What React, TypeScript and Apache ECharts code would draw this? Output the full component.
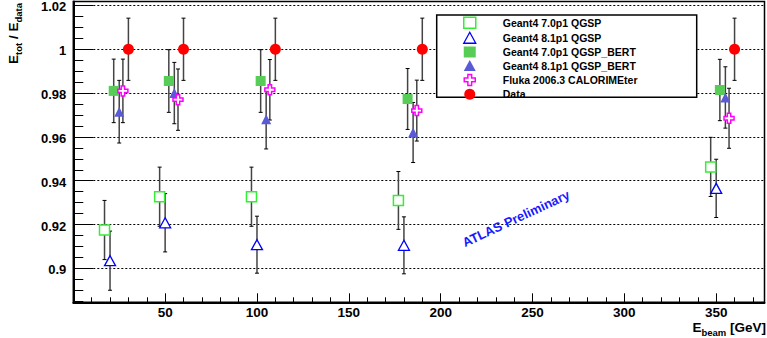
import React, { useEffect, useRef } from 'react';
import * as echarts from 'echarts';

const FONT = '"Liberation Sans", Arial, Helvetica, sans-serif';

const seriesNames = [
  'Geant4 7.0p1 QGSP',
  'Geant4 8.1p1 QGSP',
  'Geant4 7.0p1 QGSP_BERT',
  'Geant4 8.1p1 QGSP_BERT',
  'Fluka 2006.3 CALORIMEter',
  'Data',
];

const xTickLabels = [50, 100, 150, 200, 250, 300, 350];
const yTickLabels = [0.9, 0.92, 0.94, 0.96, 0.98, 1, 1.02];

// beam energies 20, 50, 100, 180, 350 GeV, each set drawn slightly shifted
const xQgsp70 = [17, 47, 97, 177, 347];
const yQgsp70 = [0.9175, 0.9327, 0.9327, 0.931, 0.9463];
const eQgsp70 = [0.0135, 0.0135, 0.0135, 0.0132, 0.0135];

const xQgsp81 = [20, 50, 100, 180, 350];
const yQgsp81 = [0.9035, 0.9208, 0.9108, 0.9105, 0.9365];
const eQgsp81 = [0.0135, 0.0133, 0.013, 0.013, 0.0133];

const xBert70 = [22, 52, 102, 182, 352];
const yBert70 = [0.981, 0.9855, 0.9855, 0.9773, 0.9814];
const eBert70 = [0.0145, 0.0143, 0.0143, 0.0139, 0.014];

const xBert81 = [25, 55, 105, 185, 355];
const yBert81 = [0.9715, 0.98, 0.968, 0.962, 0.978];
const eBert81 = [0.0143, 0.014, 0.0135, 0.0137, 0.014];

const xFluka = [27, 57, 107, 187, 357];
const yFluka = [0.981, 0.977, 0.9815, 0.972, 0.9685];
const eFluka = [0.0145, 0.014, 0.0138, 0.0139, 0.0137];

const xData = [30, 60, 110, 190, 360];
const yData = [1, 1, 1, 1, 1];
const eData = [0.0142, 0.0142, 0.0142, 0.0142, 0.0142];

const CROSS = 'path://M3.3,0H6.7V3.3H10V6.7H6.7V10H3.3V6.7H0V3.3H3.3Z';

const sets = [
  { xs: xQgsp70, ys: yQgsp70, es: eQgsp70, symbol: 'rect', size: 10, icon: 'rect',
    style: { color: '#ffffff', borderColor: '#33ee33', borderWidth: 1.5 } },
  { xs: xQgsp81, ys: yQgsp81, es: eQgsp81, symbol: 'triangle', size: [11, 10], icon: 'triangle',
    style: { color: '#ffffff', borderColor: '#0000ff', borderWidth: 1.3 } },
  { xs: xBert70, ys: yBert70, es: eBert70, symbol: 'rect', size: 10, icon: 'rect',
    style: { color: '#57cc57', borderWidth: 0 } },
  { xs: xBert81, ys: yBert81, es: eBert81, symbol: 'triangle', size: [10, 10], icon: 'triangle',
    style: { color: '#5a5ad6', borderWidth: 0 } },
  { xs: xFluka, ys: yFluka, es: eFluka, symbol: CROSS, size: 10, icon: CROSS,
    style: { color: '#ffffff', borderColor: '#ff00ff', borderWidth: 1.5 } },
  { xs: xData, ys: yData, es: eData, symbol: 'circle', size: 11, icon: 'circle',
    style: { color: '#ff0000', borderWidth: 0 } },
];

const errorBarItem = (_params: any, api: any) => {
  const x = api.value(0);
  const y = api.value(1);
  const e = api.value(2);
  const top = api.coord([x, y + e]);
  const bot = api.coord([x, y - e]);
  const cap = 2;
  return {
    type: 'group',
    children: [
      { type: 'line', shape: { x1: top[0], y1: top[1], x2: bot[0], y2: bot[1] },
        style: { stroke: '#444', lineWidth: 1.5 } },
      { type: 'line', shape: { x1: top[0] - cap, y1: top[1], x2: top[0] + cap, y2: top[1] },
        style: { stroke: '#000', lineWidth: 1 } },
      { type: 'line', shape: { x1: bot[0] - cap, y1: bot[1], x2: bot[0] + cap, y2: bot[1] },
        style: { stroke: '#000', lineWidth: 1 } },
    ],
  };
};

export default function App() {
  const ref = useRef<HTMLDivElement>(null);

  useEffect(() => {
    if (!ref.current) return;
    const chart = echarts.init(ref.current, null, { renderer: 'svg' });

    const errSeries = sets.map((s, i) => ({
      type: 'custom',
      name: 'err' + i,
      renderItem: errorBarItem,
      data: s.xs.map((x, j) => [x, s.ys[j], s.es[j]]),
      encode: { x: 0, y: 1 },
      z: 2,
      silent: true,
    }));

    const markerSeries = sets.map((s, i) => ({
      type: 'scatter',
      name: seriesNames[i],
      data: s.xs.map((x, j) => [x, s.ys[j]]),
      symbol: s.symbol,
      symbolSize: s.size,
      itemStyle: { ...s.style, opacity: 1 },
      z: 3,
      silent: true,
      emphasis: { disabled: true },
    }));

    const option: any = {
      animation: false,
      backgroundColor: '#ffffff',
      grid: {
        left: 73.3,
        right: 2.5,
        top: 1.5,
        bottom: 35.7,
        containLabel: false,
        outerBoundsMode: 'none',
        show: true,
        borderColor: '#000',
        borderWidth: 1.5,
        backgroundColor: 'transparent',
      },
      xAxis: {
        type: 'value',
        min: 0,
        max: 376.3,
        interval: 50,
        axisLine: { show: true, onZero: false, lineStyle: { color: '#000', width: 2 } },
        axisTick: { show: true, inside: true, length: 9, lineStyle: { color: '#000', width: 1 } },
        minorTick: { show: true, splitNumber: 5, length: 5, lineStyle: { color: '#000', width: 1 } },
        axisLabel: {
          margin: 3,
          color: '#000',
          fontSize: 13.5,
          fontWeight: 'bold',
          fontFamily: FONT,
          showMinLabel: false,
          showMaxLabel: false,
          formatter: (v: number) => (xTickLabels.includes(Math.round(v)) && Math.abs(v - Math.round(v)) < 1e-6 ? String(Math.round(v)) : ''),
        },
        splitLine: { show: false },
      },
      yAxis: {
        type: 'value',
        min: 0.8845,
        max: 1.0218,
        splitNumber: 7,
        axisLine: { show: true, onZero: false, lineStyle: { color: '#000', width: 2 } },
        axisTick: { show: true, inside: true, length: 20, lineStyle: { color: '#000', width: 1 } },
        minorTick: { show: true, splitNumber: 4, length: 10, lineStyle: { color: '#000', width: 1 } },
        axisLabel: {
          margin: 7,
          color: '#000',
          fontSize: 13,
          lineHeight: 3,
          verticalAlign: 'top',
          fontWeight: 'bold',
          fontFamily: FONT,
          showMinLabel: false,
          showMaxLabel: false,
          formatter: (v: number) => {
            const hit = yTickLabels.find((t) => Math.abs(t - v) < 1e-6);
            return hit === undefined ? '' : String(hit);
          },
        },
        splitLine: { show: true, lineStyle: { color: '#000', width: 1, type: [2, 2] } },
      },
      legend: {
        orient: 'vertical',
        left: 463,
        top: 16.5,
        padding: 0,
        itemGap: 2.6,
        itemWidth: 12,
        itemHeight: 11,
        selectedMode: false,
        z: 6,
        textStyle: {
          color: '#000',
          fontSize: 10.5,
          fontWeight: 'bold',
          fontFamily: FONT,
          lineHeight: 11,
          padding: [0, 0, 0, 22],
        },
        data: sets.map((s, i) => ({
          name: seriesNames[i],
          icon: s.icon,
          itemStyle: { ...s.style },
        })),
      },
      graphic: [
        {
          type: 'rect',
          z: 5,
          shape: { x: 436.7, y: 15, width: 260, height: 82.3 },
          style: { fill: '#ffffff', stroke: '#000', lineWidth: 1.5 },
        },
        {
          type: 'text',
          z: 7,
          x: 516,
          y: 218.5,
          rotation: (25 * Math.PI) / 180,
          style: {
            text: 'ATLAS Preliminary',
            fill: '#1a1aff',
            fontSize: 13,
            fontWeight: 'bold',
            fontFamily: FONT,
            align: 'center',
            verticalAlign: 'middle',
          },
        },
        {
          type: 'text',
          z: 7,
          x: 13.6,
          y: 3,
          rotation: Math.PI / 2,
          style: {
            text: '{m|E}{s|tot}{m| / E}{s|data}',
            align: 'right',
            verticalAlign: 'middle',
            fill: '#000',
            rich: {
              m: { fontSize: 13.5, fontWeight: 'bold', fontFamily: FONT, lineHeight: 20, fill: '#000' },
              s: { fontSize: 9.5, fontWeight: 'bold', fontFamily: FONT, lineHeight: 8, verticalAlign: 'bottom', fill: '#000' },
            },
          },
        },
        {
          type: 'text',
          z: 7,
          x: 766,
          y: 327,
          style: {
            text: '{m|E}{s|beam}{m| [GeV]}',
            align: 'right',
            verticalAlign: 'middle',
            fill: '#000',
            rich: {
              m: { fontSize: 13.5, fontWeight: 'bold', fontFamily: FONT, lineHeight: 20, fill: '#000' },
              s: { fontSize: 9.5, fontWeight: 'bold', fontFamily: FONT, lineHeight: 8, verticalAlign: 'bottom', fill: '#000' },
            },
          },
        },
      ],
      series: [...errSeries, ...markerSeries],
    };

    chart.setOption(option);
    return () => chart.dispose();
  }, []);

  return (
    <div
      ref={ref}
      style={{ position: 'absolute', left: 0, top: 0, width: 767, height: 338, background: '#fff' }}
    />
  );
}
